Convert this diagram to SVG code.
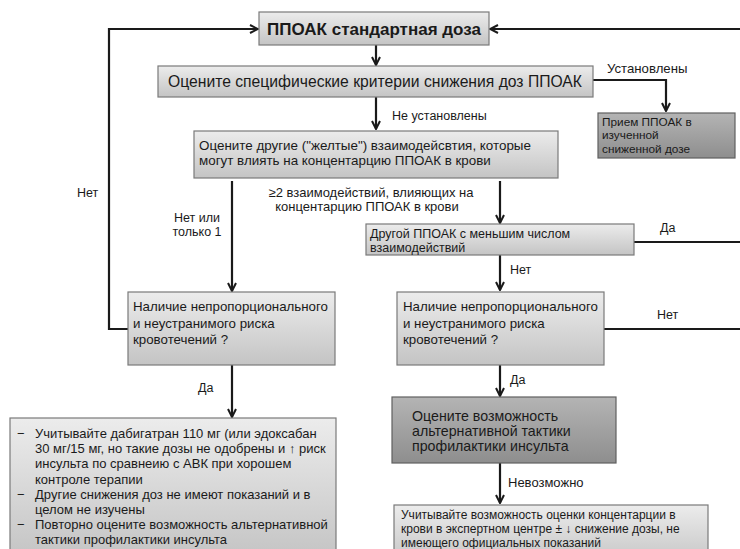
<svg xmlns="http://www.w3.org/2000/svg" width="740" height="549" viewBox="0 0 740 549">
<defs>
<linearGradient id="gLight" x1="0" y1="0" x2="0" y2="1">
<stop offset="0" stop-color="#ececec"/>
<stop offset="1" stop-color="#c4c4c4"/>
</linearGradient>
<linearGradient id="gDark" x1="0" y1="0" x2="0" y2="1">
<stop offset="0" stop-color="#b4b4b4"/>
<stop offset="1" stop-color="#8e8e8e"/>
</linearGradient>
<marker id="arr" viewBox="0 0 10 10" refX="9" refY="5" markerWidth="10" markerHeight="10" markerUnits="userSpaceOnUse" orient="auto">
<path d="M1,1 L9,5 L1,9" fill="none" stroke="#1a1a1a" stroke-width="2"/>
</marker>
</defs>
<style>
text{font-family:"Liberation Sans",Arial,sans-serif;fill:#1a1a1a}
.box{fill:url(#gLight);stroke:#7a7a7a;stroke-width:1.2}
.dark{fill:url(#gDark);stroke:#606060;stroke-width:1.2}
.ln{fill:none;stroke:#1a1a1a;stroke-width:2.2}
.lbl{font-size:12.5px}
.t13{font-size:13.3px}
.t12{font-size:13px}
</style>
<rect width="740" height="549" fill="#ffffff"/>

<g id="connectors">
<path class="ln" d="M376,45 V65" marker-end="url(#arr)"/>
<path class="ln" d="M593,80 H666 V111" marker-end="url(#arr)"/>
<path class="ln" d="M376,97 V129" marker-end="url(#arr)"/>
<path class="ln" d="M232,181 V291" marker-end="url(#arr)"/>
<path class="ln" d="M500,181 V223" marker-end="url(#arr)"/>
<path class="ln" d="M634,242 H740"/>
<path class="ln" d="M500,255 V290" marker-end="url(#arr)"/>
<path class="ln" d="M128,329 H109 V29 H258" marker-end="url(#arr)"/>
<path class="ln" d="M604,329 H740"/>
<path class="ln" d="M740,29 H490" marker-end="url(#arr)"/>
<path class="ln" d="M232,365 V417" marker-end="url(#arr)"/>
<path class="ln" d="M500,365 V396" marker-end="url(#arr)"/>
<path class="ln" d="M500,463 V503" marker-end="url(#arr)"/>
<text x="607" y="73" font-size="13.2">Установлены</text>
<text class="lbl" x="392" y="120">Не установлены</text>
<text class="lbl" x="77" y="197">Нет</text>
<text class="lbl" x="197" y="222" text-anchor="middle">Нет или</text>
<text class="lbl" x="197" y="236" text-anchor="middle">только 1</text>
<text x="371" y="197" text-anchor="middle" font-size="13">≥2 взаимодействий, влияющих на</text>
<text x="367" y="211" text-anchor="middle" font-size="13">концентарцию ППОАК в крови</text>
<text class="lbl" x="660" y="232">Да</text>
<text class="lbl" x="510" y="274">Нет</text>
<text class="lbl" x="657" y="319">Нет</text>
<text class="lbl" x="198" y="392">Да</text>
<text class="lbl" x="510" y="384">Да</text>
<text x="508" y="487" font-size="13">Невозможно</text>
</g>

<g id="n-standard">
<rect class="box" x="259" y="12" width="230" height="33"/>
<text x="374" y="34.5" text-anchor="middle" font-size="17" font-weight="bold">ППОАК стандартная доза</text>
</g>

<g id="n-criteria">
<rect class="box" x="158" y="66" width="435" height="31"/>
<text x="168" y="87" font-size="15.7">Оцените специфические критерии снижения доз ППОАК</text>
</g>

<g id="n-reduced">
<rect class="dark" x="598" y="113" width="137" height="45"/>
<text x="602" y="125.5" font-size="11.8">Прием ППОАК в</text>
<text x="602" y="139.2" font-size="11.8">изученной</text>
<text x="602" y="152.9" font-size="11.8">сниженной дозе</text>
</g>

<g id="n-other">
<rect class="box" x="194" y="131" width="364" height="47"/>
<text x="199" y="150" font-size="13.4">Оцените другие ("желтые") взаимодейсвтия, которые</text>
<text x="199" y="165" font-size="13.4">могут влиять на концентарцию ППОАК в крови</text>
</g>

<g id="n-another">
<rect class="box" x="366" y="224" width="268" height="31"/>
<text x="370" y="237.5" font-size="12.5">Другой ППОАК с меньшим числом</text>
<text x="370" y="251.5" font-size="12.5">взаимодействий</text>
</g>

<g id="n-risk-left">
<rect class="box" x="128" y="292" width="207" height="73"/>
<text x="133" y="311" class="t13">Наличие непропорционального</text>
<text x="133" y="328" class="t13">и неустранимого риска</text>
<text x="133" y="344" class="t13">кровотечений ?</text>
</g>

<g id="n-risk-right">
<rect class="box" x="397" y="292" width="207" height="73"/>
<text x="403" y="311" class="t13">Наличие непропорционального</text>
<text x="403" y="328" class="t13">и неустранимого риска</text>
<text x="403" y="344" class="t13">кровотечений ?</text>
</g>

<g id="n-alternative">
<rect class="dark" x="392" y="397" width="224" height="66"/>
<text x="412" y="421" font-size="14.2">Оцените возможность</text>
<text x="412" y="436" font-size="14.2">альтернативной тактики</text>
<text x="412" y="451" font-size="14.2">профилактики инсульта</text>
</g>

<g id="n-dabigatran">
<rect class="box" x="10" y="418" width="326" height="140"/>
<text x="17" y="438" class="t12">−</text>
<text x="35" y="438" class="t12">Учитывайте дабигатран 110 мг (или эдоксабан</text>
<text x="35" y="453" class="t12">30 мг/15 мг, но такие дозы не одобрены и ↑ риск</text>
<text x="35" y="468" class="t12">инсульта по сравнеию с АВК при хорошем</text>
<text x="35" y="484" class="t12">контроле терапии</text>
<text x="17" y="499" class="t12">−</text>
<text x="35" y="499" class="t12">Другие снижения доз не имеют показаний и в</text>
<text x="35" y="514" class="t12">целом не изучены</text>
<text x="17" y="529" class="t12">−</text>
<text x="35" y="529" class="t12">Повторно оцените возможность альтернативной</text>
<text x="35" y="544" class="t12">тактики профилактики инсульта</text>
</g>

<g id="n-expert">
<rect class="box" x="394" y="505" width="314" height="60"/>
<text x="401" y="519" font-size="12">Учитывайте возможность оценки концентарции в</text>
<text x="401" y="533" font-size="12">крови в экспертном центре ± ↓ снижение дозы, не</text>
<text x="401" y="547" font-size="12">имеющего официальных показаний</text>
</g>
</svg>
